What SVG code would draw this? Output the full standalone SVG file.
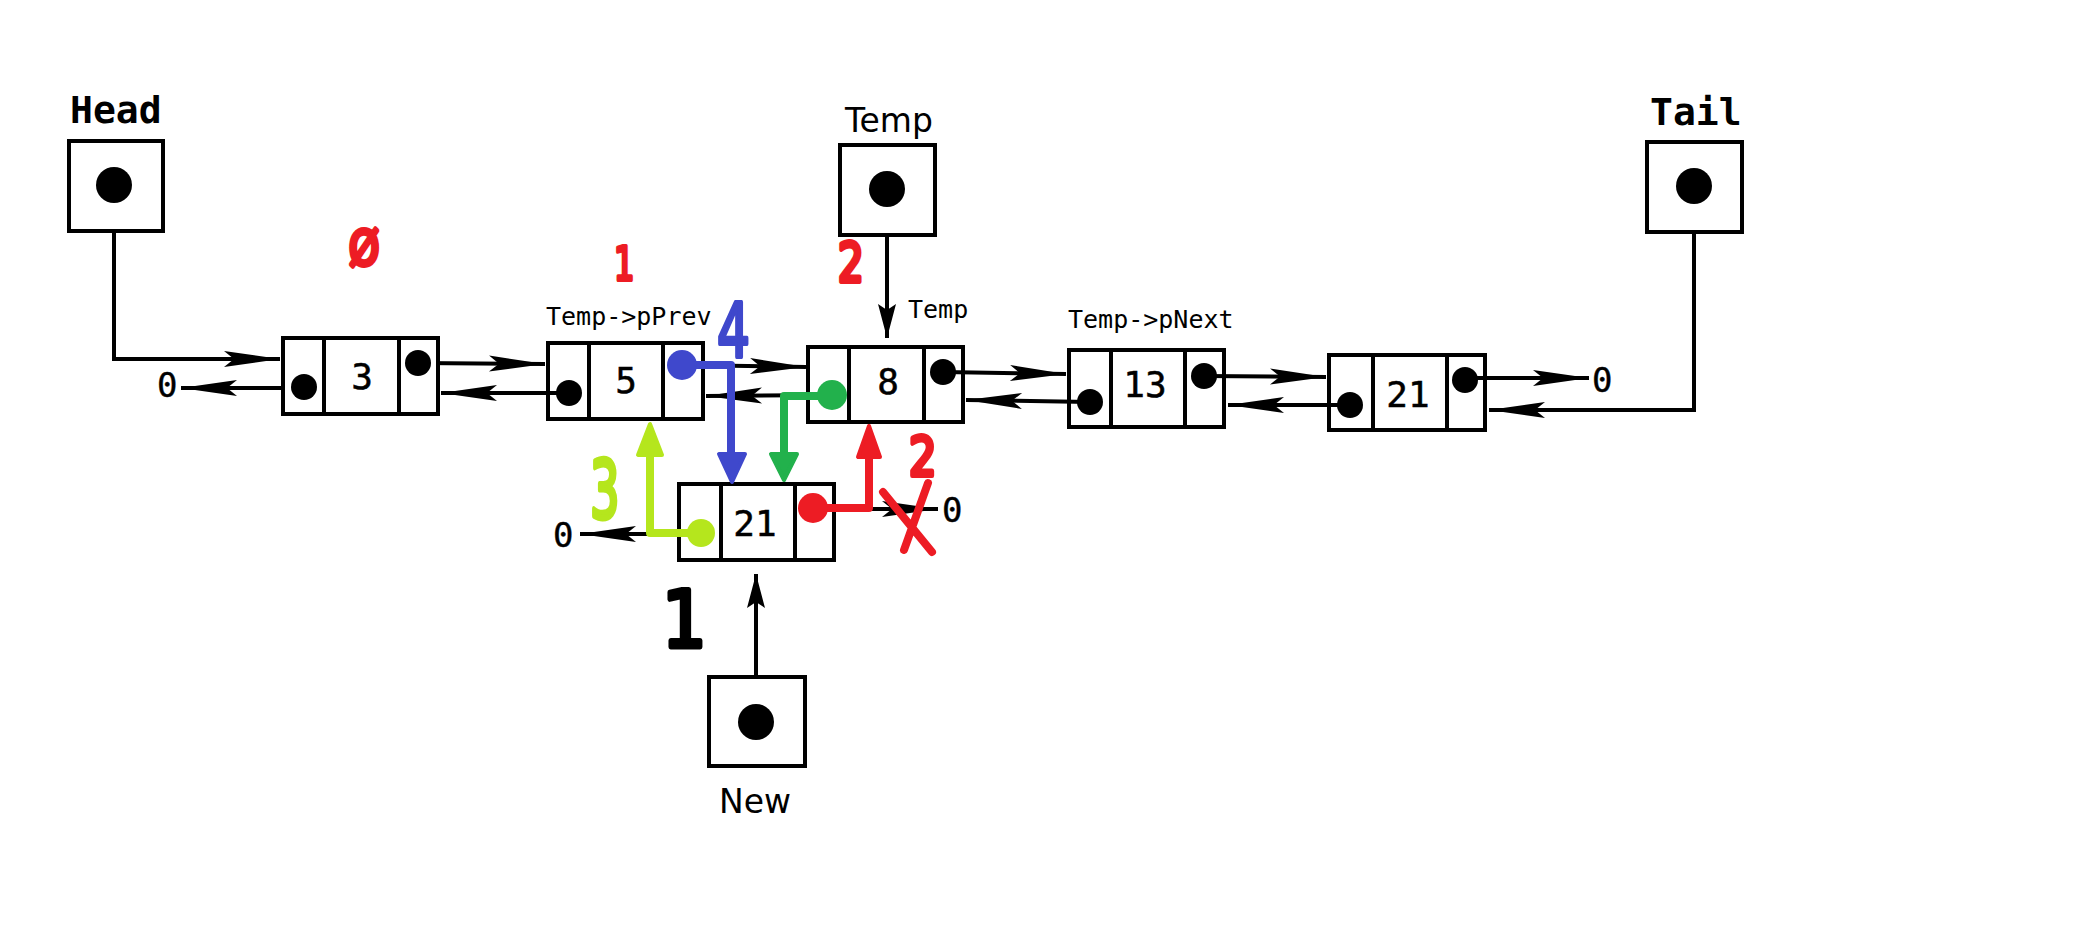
<svg xmlns="http://www.w3.org/2000/svg" width="2088" height="928" viewBox="0 0 2088 928">
<style>
.box{fill:#fff;stroke:#000;stroke-width:4}
.div{stroke:#000;stroke-width:4}
.ln{fill:none;stroke:#000;stroke-width:4}
.val{font-family:"DejaVu Sans Mono",monospace;font-size:36px;text-anchor:middle;fill:#000;stroke:#000;stroke-width:0.5}
.zero{font-family:"DejaVu Sans Mono",monospace;font-size:34px;fill:#000;stroke:#000;stroke-width:0.4}
.lbl{font-family:"DejaVu Sans Mono",monospace;font-size:25px;fill:#000}
.big{font-family:"DejaVu Sans Mono",monospace;font-size:38px;font-weight:bold;fill:#000}
.ttl{font-family:"DejaVu Sans",sans-serif;font-size:33px;fill:#000}
.hand{font-family:"DejaVu Sans",sans-serif;font-weight:normal;stroke-linejoin:round}
.col{fill:none;stroke-width:8;stroke-linejoin:round;stroke-linecap:round}
</style>
<defs>
<marker id="ah" markerUnits="userSpaceOnUse" markerWidth="60" markerHeight="20" viewBox="-58 -10 60 20" refX="0" refY="0" orient="auto">
<path d="M0,0 L-56,-8 L-46,0 L-56,8 Z" fill="#000"/>
</marker>
<marker id="ahs" markerUnits="userSpaceOnUse" markerWidth="40" markerHeight="22" viewBox="-38 -11 40 22" refX="0" refY="0" orient="auto">
<path d="M0,0 L-34,-9 L-28,0 L-34,9 Z" fill="#000"/>
</marker>
</defs>
<rect width="2088" height="928" fill="#fff"/>

<g id="connectors">
<path class="ln" d="M114,185 V359 H280" marker-end="url(#ah)"/>
<path class="ln" d="M418,363 L545,364" marker-end="url(#ah)"/>
<path class="ln" d="M569,393 L441,393" marker-end="url(#ah)"/>
<path class="ln" d="M304,388 L181,388" marker-end="url(#ah)"/>
<path class="ln" d="M682,365 L806,367" marker-end="url(#ah)"/>
<path class="ln" d="M832,395 L706,396" marker-end="url(#ah)"/>
<path class="ln" d="M943,372 L1066,374" marker-end="url(#ah)"/>
<path class="ln" d="M1090,402 L966,400" marker-end="url(#ah)"/>
<path class="ln" d="M1204,376 L1326,377" marker-end="url(#ah)"/>
<path class="ln" d="M1350,405 L1228,405" marker-end="url(#ah)"/>
<path class="ln" d="M1465,378 L1589,378" marker-end="url(#ah)"/>
<path class="ln" d="M1694,186 V410 H1489" marker-end="url(#ah)"/>
<path class="ln" d="M887,189 V338" marker-end="url(#ahs)"/>
<path class="ln" d="M756,722 V574" marker-end="url(#ahs)"/>
<path class="ln" d="M650,534 L580,534" marker-end="url(#ah)"/>
<path class="ln" d="M868,509 L938,509" marker-end="url(#ah)"/>
</g>

<g id="head">
<text class="big" x="70" y="123">Head</text>
<rect class="box" x="69" y="141" width="94" height="90"/>
<circle cx="114" cy="185" r="18"/>
</g>
<g id="temp">
<text class="ttl" x="845" y="132">Temp</text>
<rect class="box" x="840" y="145" width="95" height="90"/>
<circle cx="887" cy="189" r="18"/>
</g>
<g id="tail">
<text class="big" x="1650" y="125">Tail</text>
<rect class="box" x="1647" y="142" width="95" height="90"/>
<circle cx="1694" cy="186" r="18"/>
</g>
<g id="new">
<rect class="box" x="709" y="677" width="96" height="89"/>
<circle cx="756" cy="722" r="18"/>
<text class="ttl" x="719" y="813">New</text>
</g>

<g id="node3">
<rect class="box" x="283" y="338" width="155" height="76"/>
<line class="div" x1="324" y1="338" x2="324" y2="414"/>
<line class="div" x1="399" y1="338" x2="399" y2="414"/>
<text class="val" x="362" y="389">3</text>
<circle cx="304" cy="387" r="13"/>
<circle cx="418" cy="363" r="13"/>
</g>
<g id="node5">
<rect class="box" x="548" y="343" width="155" height="76" style="fill:none"/>
<line class="div" x1="589" y1="343" x2="589" y2="419"/>
<line class="div" x1="663" y1="343" x2="663" y2="419"/>
<text class="val" x="626" y="393">5</text>
<circle cx="569" cy="393" r="13"/>
</g>
<g id="node8">
<rect class="box" x="808" y="347" width="155" height="75" style="fill:none"/>
<line class="div" x1="849" y1="347" x2="849" y2="422"/>
<line class="div" x1="924" y1="347" x2="924" y2="422"/>
<text class="val" x="888" y="394">8</text>
<circle cx="943" cy="372" r="13"/>
</g>
<g id="node13">
<rect class="box" x="1069" y="350" width="155" height="77" style="fill:none"/>
<line class="div" x1="1111" y1="350" x2="1111" y2="427"/>
<line class="div" x1="1185" y1="350" x2="1185" y2="427"/>
<text class="val" x="1145" y="397">13</text>
<circle cx="1090" cy="402" r="13"/>
<circle cx="1204" cy="376" r="13"/>
</g>
<g id="node21">
<rect class="box" x="1329" y="355" width="156" height="75" style="fill:none"/>
<line class="div" x1="1373" y1="355" x2="1373" y2="430"/>
<line class="div" x1="1447" y1="355" x2="1447" y2="430"/>
<text class="val" x="1408" y="407">21</text>
<circle cx="1350" cy="405" r="13"/>
<circle cx="1465" cy="380" r="13"/>
</g>
<g id="newnode">
<rect class="box" x="679" y="484" width="155" height="76" style="fill:none"/>
<line class="div" x1="721" y1="484" x2="721" y2="560"/>
<line class="div" x1="795" y1="484" x2="795" y2="560"/>
<text class="val" x="755" y="536">21</text>
</g>

<g id="labels">
<text class="zero" x="157" y="397">0</text>
<text class="zero" x="1592" y="392">0</text>
<text class="zero" x="553" y="547">0</text>
<text class="zero" x="942" y="522">0</text>
<text class="lbl" x="546" y="325">Temp-&gt;pPrev</text>
<text class="lbl" x="908" y="318">Temp</text>
<text class="lbl" x="1068" y="328">Temp-&gt;pNext</text>
</g>

<g id="steps">
<path class="col" stroke="#3f48cc" d="M682,365 H731 V456"/>
<path d="M719,454 L745,454 L732,482 Z" fill="#3f48cc" stroke="#3f48cc" stroke-width="4" stroke-linejoin="round"/>
<circle cx="682" cy="365" r="15" fill="#3f48cc"/>
<path class="col" stroke="#22b14c" d="M832,396 H784 V456"/>
<path d="M771,454 L797,454 L784,480 Z" fill="#22b14c" stroke="#22b14c" stroke-width="4" stroke-linejoin="round"/>
<circle cx="832" cy="395" r="15" fill="#22b14c"/>
<path class="col" stroke="#b5e61d" d="M700,533 H650 V455"/>
<path d="M638,455 L662,455 L650,424 Z" fill="#b5e61d" stroke="#b5e61d" stroke-width="4" stroke-linejoin="round"/>
<circle cx="701" cy="533" r="14" fill="#b5e61d"/>
<path class="col" stroke="#ed1c24" d="M813,508 H869 V455"/>
<path d="M858,457 L880,457 L869,426 Z" fill="#ed1c24" stroke="#ed1c24" stroke-width="4" stroke-linejoin="round"/>
<circle cx="813" cy="508" r="15" fill="#ed1c24"/>
<path class="col" stroke="#ed1c24" d="M883,492 L932,552 M928,483 L904,550"/>
<text class="hand" x="0" y="0" transform="translate(349,265) scale(0.8,1)" font-size="48" fill="#ed1c24" stroke="#ed1c24" stroke-width="5">Ø</text>
<text class="hand" x="0" y="0" transform="translate(614,280) scale(0.7,1)" font-size="46" fill="#ed1c24" stroke="#ed1c24" stroke-width="4">1</text>
<text class="hand" x="0" y="0" transform="translate(838,281) scale(0.75,1)" font-size="54" fill="#ed1c24" stroke="#ed1c24" stroke-width="5">2</text>
<text class="hand" x="0" y="0" transform="translate(909,475) scale(0.8,1)" font-size="54" fill="#ed1c24" stroke="#ed1c24" stroke-width="5">2</text>
<text class="hand" x="0" y="0" transform="translate(717,357) scale(0.7,1)" font-size="74" fill="#3f48cc" stroke="#3f48cc" stroke-width="4">4</text>
<text class="hand" x="0" y="0" transform="translate(590,518) scale(0.58,1)" font-size="80" fill="#b5e61d" stroke="#b5e61d" stroke-width="5">3</text>
<text class="hand" x="0" y="0" transform="translate(662,647) scale(0.9,1)" font-size="78" fill="#000" stroke="#000" stroke-width="5">1</text>
</g>
</svg>
